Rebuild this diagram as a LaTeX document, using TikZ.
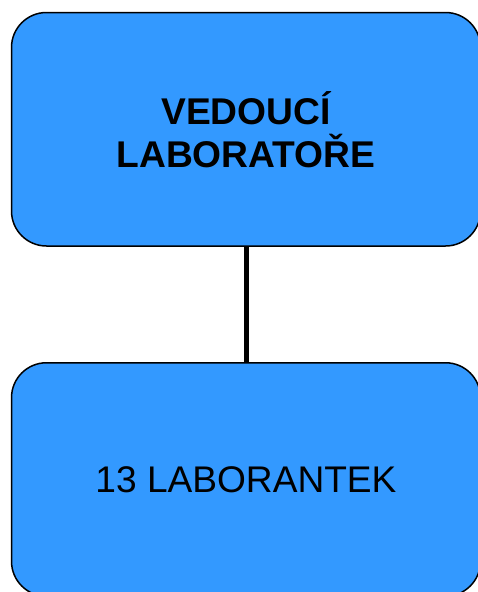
\documentclass[tikz,border=0pt]{standalone}
\usepackage{fontspec}
\setmainfont{Liberation Sans}
\definecolor{boxblue}{HTML}{3399FF}
\begin{document}
\begin{tikzpicture}[x=1pt,y=1pt,
  orgbox/.style={rectangle, rounded corners=35pt, draw=black, line width=1.5pt,
    fill=boxblue, minimum width=469pt, minimum height=233.5pt, inner sep=0pt,
    align=center, text=black},
  link/.style={line width=5pt, draw=black}]
\useasboundingbox (0,0) rectangle (478,-592);
\node[orgbox, font=\fontsize{37.2}{43}\selectfont\bfseries] (head) at (246,-129.25) {VEDOUCÍ\\LABORATOŘE};
\node[orgbox, font=\fontsize{37.1}{43}\selectfont] (staff) at (246,-479.5) {13 LABORANTEK};
\draw[link] (head.south) -- (staff.north);
\end{tikzpicture}
\end{document}
